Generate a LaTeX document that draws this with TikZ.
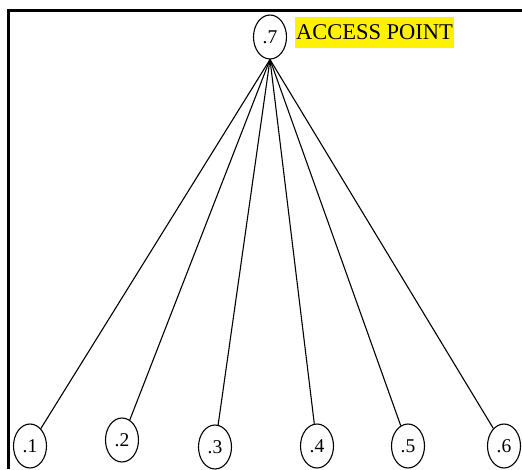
\documentclass[tikz,border=0pt]{standalone}
\usepackage{fontspec}
\setmainfont{Liberation Serif}
\usetikzlibrary{shapes.geometric}
\begin{document}
\begin{tikzpicture}[x=1pt,y=1pt,
  station/.style={ellipse,draw,line width=1.1pt,minimum width=33pt,minimum height=44pt,inner sep=0pt,font=\fontsize{19.5}{21}\selectfont},
  link/.style={line width=1.1pt},
  frame/.style={line width=3pt}]
\useasboundingbox (0,0) rectangle (522,469);
\draw[frame] (8,0) -- (8,458) -- (522,458);
\node[station] (n7) at (270,432) {.7};
\node[fill=yellow,inner sep=1.5pt,minimum height=31pt,font=\fontsize{22.5}{24}\selectfont] (ap) at (374.5,436.5) {ACCESS POINT};
\node[station] (n1) at (30,23) {.1};
\node[station] (n2) at (122,29) {.2};
\node[station] (n3) at (215,22) {.3};
\node[station] (n4) at (317,23) {.4};
\node[station] (n5) at (408,23) {.5};
\node[station] (n6) at (504,23) {.6};
\foreach \n in {n1,n2,n3,n4,n5,n6}
  \draw[link] (n7.south) -- (\n);
\end{tikzpicture}
\end{document}
